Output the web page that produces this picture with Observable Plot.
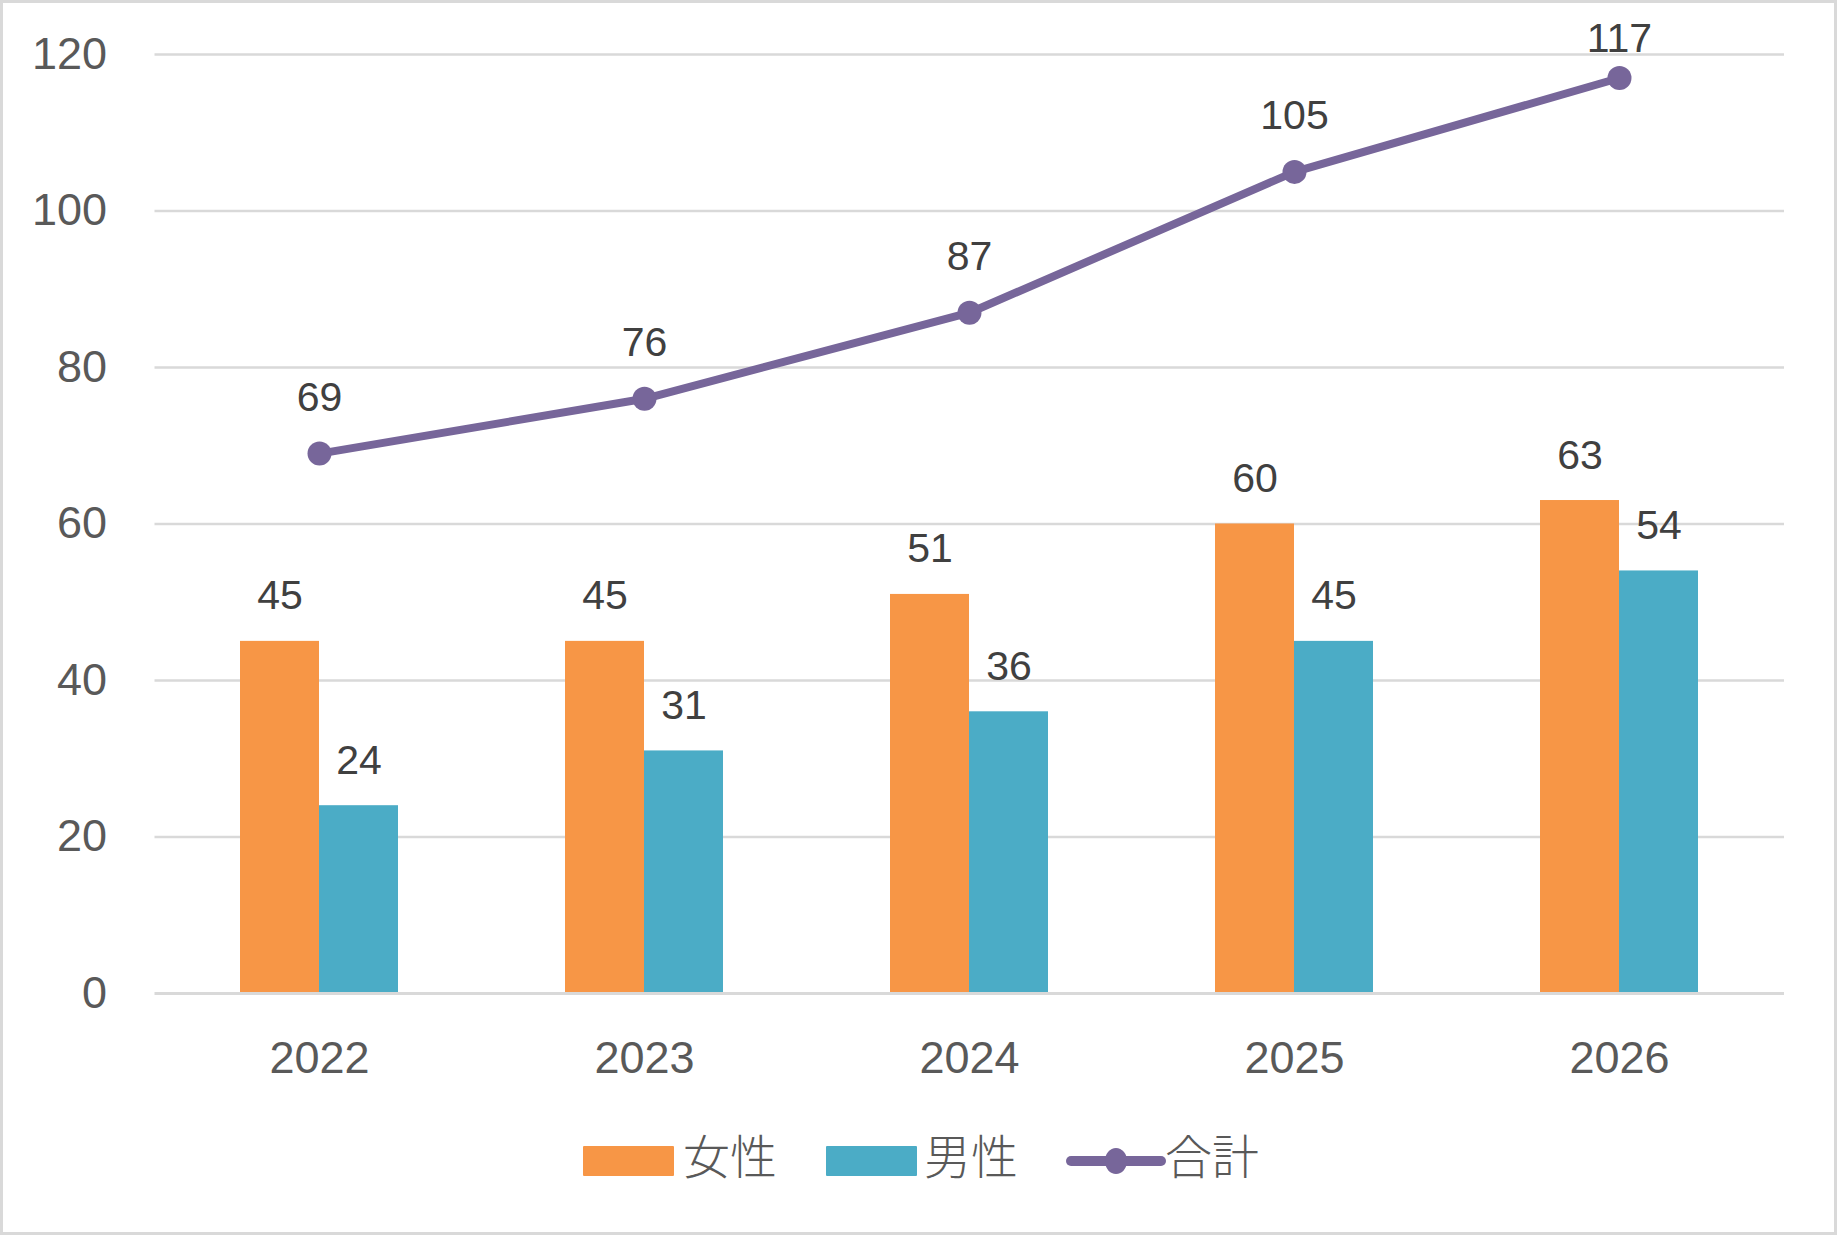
<!DOCTYPE html>
<html>
<head>
<meta charset="utf-8">
<script src="https://cdn.jsdelivr.net/npm/d3@7"></script>
<script src="https://cdn.jsdelivr.net/npm/@observablehq/plot@0.6"></script>
<style>
  html, body { margin: 0; padding: 0; background: #fff; }
  #frame {
    position: relative; box-sizing: border-box;
    width: 1837px; height: 1235px;
    border: 3px solid #d9d9d9; background: #fff; overflow: hidden;
  }
  #chart { position: absolute; left: 0; top: 0; }
  .lg { position: absolute; }
  .lg-text {
    position: absolute; font-family: "Noto Sans CJK JP", sans-serif; font-weight: 300;
    font-size: 47px; line-height: 47px; color: #595959; white-space: nowrap;
  }
</style>
</head>
<body>
<div id="frame">
  <div id="chart"></div>
  <div id="legend"></div>
</div>
<script>
// Headcount by year: women, men and the combined total
const years = ["2022", "2023", "2024", "2025", "2026"];
const female = [45, 45, 51, 60, 63];
const male = [24, 31, 36, 45, 54];
const total = [69, 76, 87, 105, 117];
const yTicks = [0, 20, 40, 60, 80, 100, 120];
const seriesNames = ["女性", "男性", "合計"];
const seriesColors = ["#F79646", "#4BACC6", "#77669A"];

const rows = years.map((year, i) => ({year, female: female[i], male: male[i], total: total[i]}));
const topTotal = d3.max(total);

const halfBand = 79;
const labelFont = {fontSize: 41, fill: "#404040", fontFamily: "Liberation Sans, Arial, sans-serif"};

const chart = Plot.plot({
  width: 1831,
  height: 1100,
  marginLeft: 151.5,
  marginRight: 50,
  marginTop: 51,
  marginBottom: 110,
  style: {fontFamily: "Liberation Sans, Arial, sans-serif", fontSize: "45px", color: "#595959", background: "transparent"},
  x: {type: "band", domain: years, paddingInner: 0.515, paddingOuter: 0.2575, label: null, tickSize: 0, tickPadding: 48},
  y: {domain: [0, 120], ticks: yTicks, label: null, tickSize: 0, tickPadding: 48},
  marks: [
    Plot.ruleY(yTicks.filter(t => t > 0), {stroke: "#d9d9d9", strokeWidth: 2.5}),
    Plot.barY(rows, {x: "year", y: "female", fill: seriesColors[0], insetRight: halfBand}),
    Plot.barY(rows, {x: "year", y: "male", fill: seriesColors[1], insetLeft: halfBand}),
    Plot.ruleY([0], {stroke: "#d9d9d9", strokeWidth: 3}),
    Plot.text(rows, {x: "year", y: "female", text: d => String(d.female), dx: -halfBand / 2, dy: -32, lineAnchor: "bottom", ...labelFont}),
    Plot.text(rows, {x: "year", y: "male", text: d => String(d.male), dx: halfBand / 2, dy: -32, lineAnchor: "bottom", ...labelFont}),
    Plot.line(rows, {x: "year", y: "total", stroke: seriesColors[2], strokeWidth: 8}),
    Plot.dot(rows, {x: "year", y: "total", r: 12, fill: seriesColors[2], stroke: "none"}),
    Plot.text(rows.filter(d => d.total < topTotal), {x: "year", y: "total", text: d => String(d.total), dy: -43, lineAnchor: "bottom", ...labelFont}),
    // the highest point's label is tucked closer so it stays inside the frame
    Plot.text(rows.filter(d => d.total === topTotal), {x: "year", y: "total", text: d => String(d.total), dy: -25.5, lineAnchor: "bottom", ...labelFont})
  ]
});
document.getElementById("chart").appendChild(chart);

// Legend below the plot
const legend = document.getElementById("legend");
const items = [
  {kind: "bar", swatchX: 580, textX: 680},
  {kind: "bar", swatchX: 823, textX: 921},
  {kind: "line", swatchX: 1058, textX: 1162}
];
items.forEach((it, i) => {
  const sw = document.createElementNS("http://www.w3.org/2000/svg", "svg");
  sw.setAttribute("class", "lg");
  sw.style.left = it.swatchX + "px";
  if (it.kind === "bar") {
    sw.setAttribute("width", 91); sw.setAttribute("height", 30);
    sw.style.top = "1143px";
    sw.innerHTML = `<rect x="0" y="0" width="91" height="30" rx="1" fill="${seriesColors[i]}"/>`;
  } else {
    sw.setAttribute("width", 106); sw.setAttribute("height", 30);
    sw.style.top = "1143px";
    sw.innerHTML = `<line x1="10" y1="15" x2="100" y2="15" stroke="${seriesColors[i]}" stroke-width="10" stroke-linecap="round"/>` +
      `<ellipse cx="55" cy="15" rx="11" ry="13" fill="${seriesColors[i]}"/>`;
  }
  legend.appendChild(sw);
  const t = document.createElement("div");
  t.className = "lg-text";
  t.textContent = seriesNames[i];
  t.style.left = it.textX + "px";
  t.style.top = "1127px";
  legend.appendChild(t);
});
</script>
</body>
</html>
